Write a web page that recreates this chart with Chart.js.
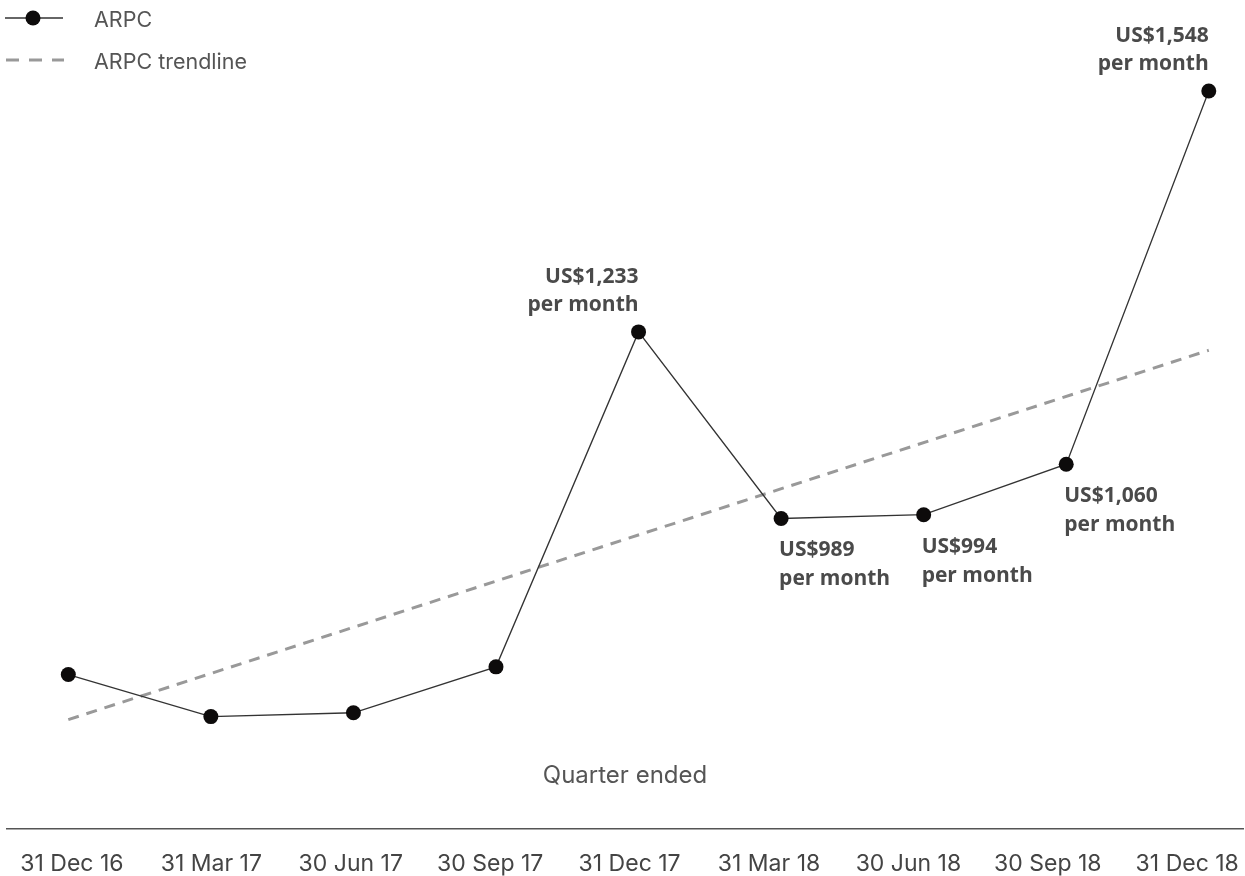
<!DOCTYPE html>
<html>
<head>
<meta charset="utf-8">
<script src="https://cdn.jsdelivr.net/npm/chart.js@4"></script>
<style>
  html, body { margin: 0; padding: 0; background: #fff; overflow: hidden; }
  canvas { display: block; }
</style>
</head>
<body>
<canvas id="graficoArpc" width="1245" height="876"></canvas>
<script>
const quarters = ['31 Dec 16', '31 Mar 17', '30 Jun 17', '30 Sep 17', '31 Dec 17', '31 Mar 18', '30 Jun 18', '30 Sep 18', '31 Dec 18'];
const arpc = [785, 730, 735, 795, 1233, 989, 994, 1060, 1548];
const trendline = [726, null, null, null, null, null, null, null, 1209];
// which points get a "US$ per month" note, and where
const notedAbove = [4, 8];
const notedBelow = [5, 6, 7];

const labelFont = '"Open Sans", sans-serif';
const axisFont = 'Inter, sans-serif';

const notes = {
  id: 'notes',
  afterDatasetsDraw(chart) {
    const ctx = chart.ctx;
    const meta = chart.getDatasetMeta(0);
    ctx.save();
    ctx.font = 'bold 21px ' + labelFont;
    ctx.fillStyle = '#4a4a4a';
    ctx.textBaseline = 'middle';
    const fmt = v => 'US$' + v.toLocaleString('en-US');
    notedAbove.forEach(i => {
      const p = meta.data[i];
      ctx.textAlign = 'right';
      ctx.fillText(fmt(arpc[i]), p.x, p.y - 55);
      ctx.fillText('per month', p.x, p.y - 27);
    });
    notedBelow.forEach(i => {
      const p = meta.data[i];
      ctx.textAlign = 'left';
      ctx.fillText(fmt(arpc[i]), p.x - 2, p.y + 32);
      ctx.fillText('per month', p.x - 2, p.y + 61);
    });
    ctx.restore();
  }
};

const legendBox = {
  id: 'legendBox',
  afterDraw(chart) {
    const ctx = chart.ctx;
    const ds = chart.data.datasets;
    ctx.save();
    // ARPC
    ctx.strokeStyle = ds[0].borderColor;
    ctx.lineWidth = 1.5;
    ctx.beginPath();
    ctx.moveTo(5, 18); ctx.lineTo(63, 18);
    ctx.stroke();
    ctx.fillStyle = ds[0].pointBackgroundColor;
    ctx.beginPath();
    ctx.arc(33, 18, 7.5, 0, Math.PI * 2);
    ctx.fill();
    // trendline
    ctx.strokeStyle = ds[1].borderColor;
    ctx.lineWidth = 3;
    ctx.setLineDash([13, 10]);
    ctx.beginPath();
    ctx.moveTo(6, 60); ctx.lineTo(64, 60);
    ctx.stroke();
    ctx.setLineDash([]);
    ctx.font = '21.5px ' + axisFont;
    ctx.fillStyle = '#555';
    ctx.textBaseline = 'middle';
    ctx.textAlign = 'left';
    ctx.fillText(ds[0].label, 94, 21);
    ctx.fillText(ds[1].label, 94, 63);
    ctx.restore();
  }
};

const ctx = document.getElementById('graficoArpc').getContext('2d');
new Chart(ctx, {
  type: 'line',
  data: {
    datasets: [{
      label: 'ARPC',
      data: arpc.map((v, i) => ({ x: i, y: v })),
      borderColor: '#333',
      borderWidth: 1.3,
      pointRadius: 7.5,
      pointBackgroundColor: '#0d0b0b',
      pointBorderWidth: 0,
      tension: 0,
      clip: false,
      order: 0
    }, {
      label: 'ARPC trendline',
      data: trendline.map((v, i) => ({ x: i, y: v })),
      borderColor: '#999',
      borderWidth: 3,
      borderDash: [11, 8],
      pointRadius: 0,
      spanGaps: true,
      clip: false,
      order: 1
    }]
  },
  options: {
    responsive: false,
    animation: false,
    layout: { autoPadding: false, padding: { left: 7, right: 2, top: 0, bottom: 0 } },
    plugins: {
      legend: { display: false },
      tooltip: { enabled: false }
    },
    scales: {
      x: {
        type: 'linear',
        min: -0.43,
        max: 8.24,
        display: false
      },
      xTitle: {
        type: 'linear',
        position: 'bottom',
        weight: 1,
        min: 0,
        max: 1,
        grid: { display: false, drawTicks: false },
        border: { display: false },
        ticks: { display: false },
        title: {
          display: true,
          text: 'Quarter ended',
          color: '#555',
          font: { family: axisFont, size: 24 },
          padding: { top: 6, bottom: 39 }
        }
      },
      xLabels: {
        type: 'linear',
        position: 'bottom',
        weight: 2,
        min: -0.466,
        max: 8.40,
        grid: { display: false, drawTicks: false },
        border: { display: true, color: '#555', width: 1.5 },
        afterBuildTicks: axis => {
          axis.ticks = quarters.map((q, i) => ({ value: i }));
        },
        afterFit: axis => {
          axis.height = 47;
          axis.paddingLeft = 0;
          axis.paddingRight = 0;
        },
        ticks: {
          autoSkip: false,
          maxRotation: 0,
          padding: 21,
          color: '#444',
          font: { family: axisFont, size: 23 },
          callback: (value) => quarters[value]
        }
      },
      y: {
        min: 679.5,
        max: 1667,
        display: false
      }
    }
  },
  plugins: [notes, legendBox]
});
</script>
</body>
</html>
